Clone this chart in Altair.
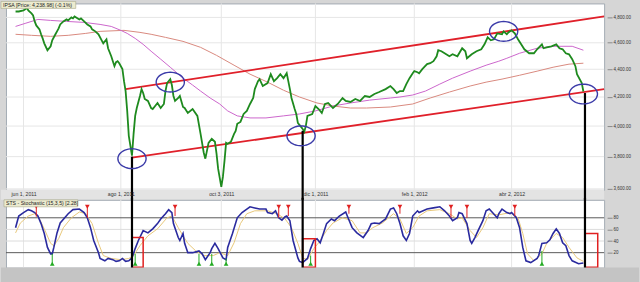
import math
import altair as alt
import pandas as pd

START = pd.Timestamp("2011-05-21")
END = pd.Timestamp("2012-05-30")
FONT = "Liberation Sans"

# ---------------- data (days counted from START) ----------------
price_days = [6, 8, 11, 12, 13, 14, 16, 17, 18, 19,
              21, 22, 23, 24, 26, 28, 29, 31, 32, 33,
              34, 36, 38, 39, 41, 42, 43, 44, 46, 47,
              49, 51, 53, 54, 56, 58, 61, 63, 64, 66,
              67, 68, 69, 70, 71, 73, 74, 75, 76, 77,
              79, 80, 81, 82, 84, 85, 86, 87, 89, 91,
              92, 95, 97, 99, 100, 101, 103, 104, 105, 106,
              108, 109, 111, 112, 114, 117, 120, 122, 124, 125,
              127, 129, 131, 132, 133, 135, 136, 137, 138, 139,
              141, 143, 144, 145, 147, 149, 151, 153, 155, 156,
              158, 159, 161, 164, 166, 168, 170, 172, 174, 176,
              177, 178, 179, 181, 182, 183, 184, 186, 187, 188,
              189, 192, 194, 196, 198, 200, 202, 205, 208, 211,
              213, 216, 219, 222, 225, 228, 231, 234, 238, 241,
              243, 245, 247, 249, 251, 253, 255, 256, 258, 259,
              261, 264, 266, 268, 270, 271, 273, 276, 278, 280,
              283, 286, 288, 289, 292, 295, 298, 300, 302, 304,
              306, 308, 311, 312, 314, 315, 317, 319, 321, 323,
              325, 328, 331, 333, 336, 337, 339, 342, 345, 347,
              349, 351, 353, 355, 357, 358, 361, 362]
price_vals = [4848, 4848, 4857, 4865, 4881, 4857, 4832, 4816, 4768, 4736,
              4705, 4666, 4634, 4596, 4543, 4573, 4619, 4666, 4689, 4713,
              4744, 4768, 4784, 4776, 4800, 4792, 4808, 4800, 4784, 4792,
              4768, 4744, 4728, 4705, 4689, 4666, 4596, 4627, 4558, 4497,
              4460, 4423, 4453, 4460, 4445, 4401, 4313, 4242, 4103, 3935,
              3806, 3948, 4069, 4123, 4207, 4256, 4228, 4186, 4172, 4123,
              4116, 4158, 4123, 4151, 4242, 4299, 4328, 4285, 4207, 4172,
              4193, 4207, 4130, 4123, 4089, 4116, 4069, 3948, 3825, 3787,
              3889, 3915, 3896, 3819, 3724, 3612, 3673, 3773, 3889, 3883,
              3896, 3948, 3968, 4015, 4028, 4082, 4103, 4151, 4193, 4256,
              4313, 4328, 4278, 4299, 4364, 4313, 4335, 4364, 4335, 4371,
              4313, 4256, 4193, 4116, 4082, 4021, 4008, 3981, 3961, 4001,
              4069, 4082, 4137, 4116, 4089, 4151, 4158, 4123, 4151, 4193,
              4172, 4165, 4186, 4172, 4207, 4200, 4221, 4235, 4256, 4278,
              4256, 4228, 4242, 4242, 4292, 4335, 4371, 4386, 4378, 4371,
              4401, 4438, 4445, 4460, 4497, 4543, 4535, 4512, 4497, 4512,
              4497, 4558, 4535, 4482, 4512, 4535, 4550, 4588, 4642, 4619,
              4627, 4673, 4666, 4689, 4666, 4681, 4697, 4673, 4627, 4588,
              4550, 4520, 4520, 4550, 4588, 4558, 4565, 4573, 4588, 4558,
              4550, 4520, 4512, 4475, 4423, 4364, 4299, 4239]

fast_days = [6, 12, 20, 28, 38, 49, 59, 66, 72, 76, 81, 86, 91, 97, 103, 111, 117,
             122, 128, 134, 139, 145, 153, 163, 174, 184, 194, 205, 216, 228, 241,
             247, 255, 263, 272, 280, 291, 301, 309, 314, 322, 333, 343, 355, 362]
fast_vals = [4728, 4752, 4784, 4776, 4768, 4760, 4744, 4728, 4697, 4673, 4634, 4588,
             4535, 4475, 4415, 4335, 4285, 4242, 4193, 4151, 4103, 4069, 4055, 4055,
             4069, 4082, 4103, 4137, 4158, 4178, 4193, 4200, 4214, 4242, 4292, 4335,
             4386, 4430, 4460, 4482, 4520, 4558, 4573, 4573, 4543]

slow_days = [6, 16, 28, 39, 50, 59, 74, 84, 91, 100, 111, 122, 132, 143, 153, 164,
             174, 184, 195, 205, 216, 226, 241, 255, 266, 278, 291, 301, 311, 322,
             333, 343, 353, 362]
slow_vals = [4666, 4658, 4650, 4658, 4673, 4689, 4697, 4681, 4666, 4642, 4611, 4565,
             4504, 4430, 4364, 4306, 4248, 4200, 4158, 4137, 4123, 4123, 4130, 4151,
             4193, 4235, 4278, 4306, 4328, 4356, 4386, 4415, 4438, 4445]

chan_names = ["upper", "upper", "lower", "lower"]
chan_days = [75, 375, 79, 375]
chan_vals = [4256, 4808, 3793, 4256]

circle_days = [79, 103, 185, 312, 362]
circle_vals = [3787, 4306, 3935, 4689, 4221]

signal_days = [79, 186, 363]
signal_vals = [3800, 3968, 4228]

price_grid = [3600, 3800, 4000, 4200, 4400, 4600, 4800]
grid_dates = ["2011-06-01", "2011-08-01", "2011-10-03", "2011-12-01", "2012-02-01", "2012-04-02"]

k_days = [6, 8, 11, 14, 16, 18, 20, 22, 24, 26,
          28, 29, 30, 32, 34, 39, 42, 46, 49, 51,
          53, 55, 58, 59, 62, 64, 67, 69, 71, 73,
          75, 77, 79, 81, 83, 86, 89, 92, 95, 97,
          100, 102, 104, 105, 108, 109, 111, 112, 114, 117,
          121, 123, 125, 128, 129, 131, 133, 136, 138, 139,
          142, 145, 148, 151, 153, 156, 159, 163, 164, 167,
          169, 171, 173, 175, 176, 178, 180, 183, 184, 186,
          189, 191, 193, 195, 197, 199, 201, 204, 206, 209,
          213, 214, 217, 220, 224, 227, 229, 231, 234, 238,
          241, 243, 245, 247, 249, 251, 253, 255, 258, 259,
          264, 268, 272, 275, 278, 280, 283, 284, 286, 289,
          291, 292, 294, 296, 299, 301, 303, 305, 308, 309,
          311, 314, 316, 317, 320, 322, 324, 326, 329, 333,
          334, 336, 339, 341, 343, 345, 347, 349, 351, 353,
          355, 359, 362]
k_vals = [63, 83, 89, 94, 92, 89, 83, 70, 53, 29,
          18, 18, 29, 54, 71, 87, 94, 95, 89, 80,
          63, 41, 20, 10, 6, 10, 8, 5, 6, 10,
          5, 6, 11, 27, 41, 58, 54, 61, 70, 78,
          87, 94, 89, 70, 46, 41, 53, 36, 20, 20,
          23, 18, 8, 20, 27, 36, 27, 11, 8, 29,
          53, 80, 89, 95, 99, 97, 95, 95, 89, 87,
          92, 80, 76, 82, 83, 75, 41, 11, 5, 3,
          10, 27, 41, 44, 37, 53, 70, 78, 75, 83,
          90, 83, 63, 54, 46, 58, 70, 71, 70, 78,
          95, 97, 87, 70, 49, 41, 53, 83, 92, 89,
          95, 97, 99, 92, 83, 75, 80, 89, 87, 70,
          41, 36, 46, 58, 75, 92, 95, 89, 80, 87,
          95, 89, 87, 89, 80, 63, 29, 6, 3, 10,
          15, 36, 37, 42, 53, 61, 53, 37, 32, 15,
          6, 1, 2.28]

d_days = [6, 9, 14, 18, 21, 24, 28, 30, 33, 36,
          41, 46, 50, 54, 58, 61, 66, 72, 77, 80,
          84, 89, 95, 101, 104, 108, 111, 114, 119, 124,
          130, 134, 139, 143, 147, 151, 156, 164, 170, 175,
          179, 183, 186, 189, 193, 196, 201, 205, 211, 217,
          222, 226, 230, 236, 243, 247, 251, 255, 259, 264,
          272, 278, 283, 286, 291, 295, 299, 303, 309, 316,
          321, 324, 327, 331, 336, 339, 345, 349, 353, 358,
          362]
d_vals = [54, 71, 83, 87, 78, 61, 36, 32, 44, 63,
          80, 90, 87, 70, 36, 15, 10, 8, 10, 15,
          32, 49, 61, 80, 83, 63, 49, 36, 23, 15,
          15, 20, 15, 37, 70, 87, 92, 92, 87, 78,
          63, 36, 11, 8, 27, 37, 58, 71, 80, 75,
          54, 54, 63, 71, 87, 78, 53, 63, 83, 92,
          94, 87, 78, 80, 58, 46, 63, 87, 85, 89,
          80, 53, 18, 6, 18, 36, 53, 46, 29, 11,
          5]

sell_days = [19, 51, 106, 171, 177, 215, 247, 279, 289, 319]
sell_stem = [82, 80, 83, 80, 83, 87, 87, 80, 80, 83]
buy_days = [29, 81, 121, 129, 138, 191, 336]
buy_stem = [18, 18, 18, 18, 10, 15, 23]

box_start = [79, 186, 363]
box_end = [86, 194, 371]
box_top = [46, 44, 53]
box_bottom = [-5, -5, -5]

stoch_levels = [20, 80]
stoch_grid = [40, 60]

TITLE_TOP = "IPSA [Price: 4,238.98] (-0.1%)"
TITLE_BOTTOM = "STS - Stochastic (15,3,5) [2.28]"

assert len(price_days) == len(price_vals)
assert len(k_days) == len(k_vals)
assert len(d_days) == len(d_vals)
assert len(fast_days) == len(fast_vals)
assert len(slow_days) == len(slow_vals)


def to_dates(days):
    return [START + pd.Timedelta(days=float(d)) for d in days]


def dt(ts):
    return alt.DateTime(year=ts.year, month=ts.month, date=ts.day)


tick_ts = [pd.Timestamp(s) for s in grid_dates]
x_scale = alt.Scale(domain=[dt(START), dt(END)])
LABEL_EXPR = ("['ene','feb','mar','abr','may','jun','jul','ago','sep','oct','nov','dic']"
              "[month(datum.value)] + ' ' + date(datum.value) + ', ' + year(datum.value)")

top_x_axis = alt.Axis(values=[dt(t) for t in tick_ts], labelExpr=LABEL_EXPR, title=None,
                      grid=False, ticks=False, domain=False, labelFontSize=5.2,
                      labelPadding=2, labelColor="#333333", labelFont=FONT,
                      labelFlush=False, zindex=1)
bot_x_axis = alt.Axis(values=[dt(t) for t in tick_ts], labels=False, ticks=False,
                      domain=False, grid=False, title=None)

y_top_scale = alt.Scale(type="log", domain=[3594, 4914], nice=False, zero=False)
top_y_axis = alt.Axis(orient="right", values=price_grid, format=",.2f", title=None,
                      grid=False, tickSize=5, tickColor="#8a8a8a", domain=False,
                      offset=3, labelFontSize=4.5, labelPadding=1, labelColor="#333333",
                      labelFont=FONT, zindex=1)
y_bot_scale = alt.Scale(domain=[-5.7, 110.9], nice=False, zero=False)
bot_y_axis = alt.Axis(orient="right", values=[20, 40, 60, 80], format="d", title=None,
                      grid=False, tickSize=5, tickColor="#8a8a8a", domain=False,
                      offset=3, labelFontSize=4.5, labelPadding=1, labelColor="#333333",
                      labelFont=FONT, zindex=1)

XT = lambda f="date": alt.X(f"{f}:T", scale=x_scale, axis=top_x_axis)
YT = lambda f="value": alt.Y(f"{f}:Q", scale=y_top_scale, axis=top_y_axis)
XB = lambda f="date": alt.X(f"{f}:T", scale=x_scale, axis=bot_x_axis)
YB = lambda f="value": alt.Y(f"{f}:Q", scale=y_bot_scale, axis=bot_y_axis)

pts = []
for i in range(48):
    t = 2 * math.pi * i / 48
    pts.append(f"{math.cos(t):.3f},{0.7 * math.sin(t):.3f}")
ELLIPSE = "M" + " L".join(pts) + " Z"

one = pd.DataFrame({"t": [TITLE_TOP]})
one_b = pd.DataFrame({"t": [TITLE_BOTTOM]})
W, H1, H2 = 600, 187, 68
GRID = "#e6e6e6"

# ---------------- top panel ----------------
price_df = pd.DataFrame({"date": to_dates(price_days), "value": price_vals})
fast_df = pd.DataFrame({"date": to_dates(fast_days), "value": fast_vals})
slow_df = pd.DataFrame({"date": to_dates(slow_days), "value": slow_vals})
chan_df = pd.DataFrame({"line": chan_names, "date": to_dates(chan_days), "value": chan_vals})
circ_df = pd.DataFrame({"date": to_dates(circle_days), "value": circle_vals})
sig_df = pd.DataFrame({"date": to_dates(signal_days), "value": signal_vals})
gdate_df = pd.DataFrame({"date": tick_ts})

t_grid_h = alt.Chart(pd.DataFrame({"value": price_grid})).mark_rule(color=GRID).encode(y=YT())
t_grid_v = alt.Chart(gdate_df).mark_rule(color=GRID).encode(x=XT())
t_strip = alt.Chart(one).mark_rect(fill="#e3e3e3").encode(
    x=alt.value(-5), x2=alt.value(600), y=alt.value(H1), y2=alt.value(H1 + 10))
t_slow = alt.Chart(slow_df).mark_line(color="#d98a80", strokeWidth=1).encode(x=XT(), y=YT())
t_fast = alt.Chart(fast_df).mark_line(color="#cc66cc", strokeWidth=1).encode(x=XT(), y=YT())
t_chan = alt.Chart(chan_df).mark_line(color="#e0202a", strokeWidth=1.8).encode(
    x=XT(), y=YT(), detail="line:N")
t_price = alt.Chart(price_df).mark_line(color="#1e8a1e", strokeWidth=1.8).encode(x=XT(), y=YT())
t_sig = alt.Chart(sig_df).mark_rule(color="#000000", strokeWidth=2.2).encode(
    x=XT(), y=YT(), y2=alt.value(H1 + 16))
t_circ = alt.Chart(circ_df).mark_point(shape=ELLIPSE, size=800, filled=False, color="#3a3aa8",
                                       strokeWidth=1.4, opacity=1).encode(x=XT(), y=YT())
t_box = alt.Chart(one).mark_rect(fill="#ecebcf", stroke="#a8a88a", strokeWidth=0.6).encode(
    x=alt.value(-5), x2=alt.value(70), y=alt.value(-2), y2=alt.value(5))
t_text = alt.Chart(one).mark_text(align="left", baseline="middle", fontSize=5.2, font=FONT,
                                  color="#222222").encode(
    x=alt.value(-3), y=alt.value(1.6), text="t:N")

top = alt.layer(t_grid_h, t_grid_v, t_strip, t_slow, t_fast, t_chan, t_price, t_sig, t_circ,
                t_box, t_text).properties(width=W, height=H1)

# ---------------- stochastic panel ----------------
k_df = pd.DataFrame({"date": to_dates(k_days), "value": k_vals})
d_df = pd.DataFrame({"date": to_dates(d_days), "value": d_vals})
sell_df = pd.DataFrame({"date": to_dates(sell_days), "stem": sell_stem})
buy_df = pd.DataFrame({"date": to_dates(buy_days), "stem": buy_stem})
box_df = pd.DataFrame({"start": to_dates(box_start), "end": to_dates(box_end),
                       "top": box_top, "bottom": box_bottom})

b_grid_v = alt.Chart(gdate_df).mark_rule(color=GRID).encode(x=XB())
b_grid_h = alt.Chart(pd.DataFrame({"value": stoch_grid})).mark_rule(color="#dcdcdc").encode(y=YB())
b_levels = alt.Chart(pd.DataFrame({"value": stoch_levels})).mark_rule(
    color="#5a5a5a", strokeWidth=1).encode(y=YB())
b_d = alt.Chart(d_df).mark_line(color="#e8c87a", strokeWidth=1).encode(x=XB(), y=YB())
b_k = alt.Chart(k_df).mark_line(color="#2a2a9e", strokeWidth=1.6).encode(x=XB(), y=YB())
b_sell_stem = alt.Chart(sell_df).transform_calculate(top="99").mark_rule(
    color="#e02020", strokeWidth=1).encode(x=XB(), y=YB("top"), y2="stem:Q")
b_sell = alt.Chart(sell_df).transform_calculate(top="99").mark_point(
    shape="triangle-down", filled=True, size=22, color="#e02020", opacity=1).encode(
    x=XB(), y=YB("top"))
b_buy_stem = alt.Chart(buy_df).transform_calculate(bot="1").mark_rule(
    color="#22aa22", strokeWidth=1).encode(x=XB(), y=YB("bot"), y2="stem:Q")
b_buy = alt.Chart(buy_df).transform_calculate(bot="1").mark_point(
    shape="triangle-up", filled=True, size=22, color="#22aa22", opacity=1).encode(
    x=XB(), y=YB("bot"))
b_box = alt.Chart(box_df).mark_rect(fillOpacity=0, stroke="#e02020", strokeWidth=1.5).encode(
    x=XB("start"), x2="end:T", y=YB("top"), y2="bottom:Q")
b_sig = alt.Chart(sig_df).mark_rule(color="#000000", strokeWidth=2.2).encode(
    x=XB(), y=alt.value(-2), y2=alt.value(H2 + 1))
b_tbox = alt.Chart(one_b).mark_rect(fill="#ecebcf", stroke="#a8a88a", strokeWidth=0.6).encode(
    x=alt.value(-2), x2=alt.value(72), y=alt.value(0), y2=alt.value(7))
b_text = alt.Chart(one_b).mark_text(align="left", baseline="middle", fontSize=5.2, font=FONT,
                                    color="#222222").encode(
    x=alt.value(0), y=alt.value(3.6), text="t:N")
b_strip = alt.Chart(one_b).mark_rect(fill="#c4c4c4").encode(
    x=alt.value(-5), x2=alt.value(635), y=alt.value(H2), y2=alt.value(H2 + 15))

bottom = alt.layer(b_grid_v, b_grid_h, b_levels, b_d, b_k, b_sell_stem, b_sell, b_buy_stem,
                   b_buy, b_box, b_sig, b_tbox, b_text, b_strip).properties(width=W, height=H2)

chart = alt.vconcat(top, bottom, spacing=10, bounds="flush").properties(
    background="#d6d6d6", padding=0
).configure_view(fill="#ffffff", stroke="#a4acb4", strokeWidth=1)

chart.save("out.html", embed_options={"renderer": "svg", "actions": False})
